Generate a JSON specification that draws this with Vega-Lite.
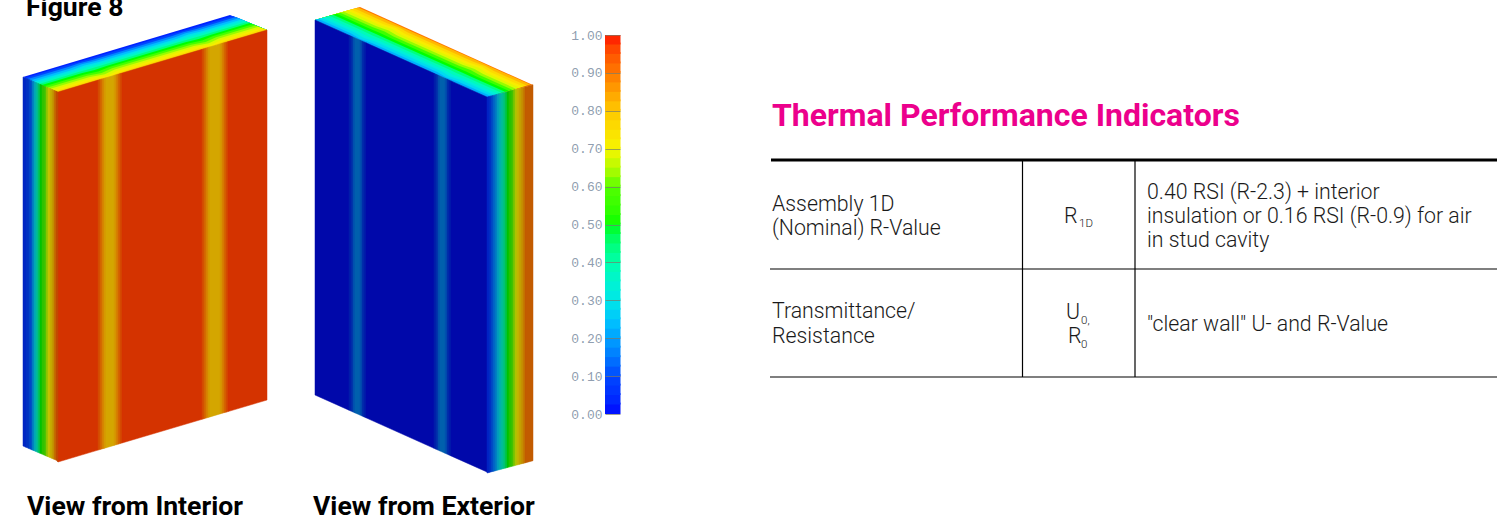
{"$schema":"https://vega.github.io/schema/vega-lite/v6.json","width":1509,"height":521,"padding":0,"autosize":{"type":"none"},"background":"white","config":{"view":{"stroke":null}},"resolve":{"scale":{"color":"independent","stroke":"independent","y":"independent"}},
"layer":[
{"data":{"values":[
{"b":0,"t":0.03,"x":23,"y":77},{"b":0,"t":0.03,"x":230,"y":15},{"b":0,"t":0.03,"x":267,"y":30},{"b":0,"t":0.03,"x":58,"y":92},
{"b":1,"t":0.1,"x":25.1,"y":77.9},{"b":1,"t":0.1,"x":64.6,"y":66.1},{"b":1,"t":0.1,"x":77.1,"y":62.4},{"b":1,"t":0.1,"x":89.6,"y":58.7},{"b":1,"t":0.1,"x":168.6,"y":35.1},{"b":1,"t":0.1,"x":181.1,"y":31.4},{"b":1,"t":0.1,"x":193.6,"y":27.7},{"b":1,"t":0.1,"x":233.1,"y":15.9},{"b":1,"t":0.1,"x":267,"y":30},{"b":1,"t":0.1,"x":58,"y":92},
{"b":2,"t":0.17,"x":27.9,"y":79.1},{"b":2,"t":0.17,"x":67.4,"y":67.3},{"b":2,"t":0.17,"x":79.2,"y":63.3},{"b":2,"t":0.17,"x":92.4,"y":59.9},{"b":2,"t":0.17,"x":171.4,"y":36.3},{"b":2,"t":0.17,"x":183.2,"y":32.3},{"b":2,"t":0.17,"x":196.4,"y":28.9},{"b":2,"t":0.17,"x":235.9,"y":17.1},{"b":2,"t":0.17,"x":267,"y":30},{"b":2,"t":0.17,"x":58,"y":92},
{"b":3,"t":0.24,"x":30.7,"y":80.3},{"b":3,"t":0.24,"x":70.2,"y":68.5},{"b":3,"t":0.24,"x":81.6,"y":64.3},{"b":3,"t":0.24,"x":95.2,"y":61.1},{"b":3,"t":0.24,"x":174.2,"y":37.5},{"b":3,"t":0.24,"x":185.6,"y":33.3},{"b":3,"t":0.24,"x":199.2,"y":30.1},{"b":3,"t":0.24,"x":238.7,"y":18.3},{"b":3,"t":0.24,"x":267,"y":30},{"b":3,"t":0.24,"x":58,"y":92},
{"b":4,"t":0.3,"x":33.5,"y":81.5},{"b":4,"t":0.3,"x":73,"y":69.7},{"b":4,"t":0.3,"x":84.4,"y":65.5},{"b":4,"t":0.3,"x":98,"y":62.3},{"b":4,"t":0.3,"x":177,"y":38.7},{"b":4,"t":0.3,"x":188.4,"y":34.5},{"b":4,"t":0.3,"x":202,"y":31.3},{"b":4,"t":0.3,"x":241.5,"y":19.5},{"b":4,"t":0.3,"x":267,"y":30},{"b":4,"t":0.3,"x":58,"y":92},
{"b":5,"t":0.37,"x":36.3,"y":82.7},{"b":5,"t":0.37,"x":75.8,"y":70.9},{"b":5,"t":0.37,"x":87.6,"y":66.9},{"b":5,"t":0.37,"x":100.8,"y":63.5},{"b":5,"t":0.37,"x":179.8,"y":39.9},{"b":5,"t":0.37,"x":191.6,"y":35.9},{"b":5,"t":0.37,"x":204.8,"y":32.5},{"b":5,"t":0.37,"x":244.3,"y":20.7},{"b":5,"t":0.37,"x":267,"y":30},{"b":5,"t":0.37,"x":58,"y":92},
{"b":6,"t":0.44,"x":39.1,"y":83.9},{"b":6,"t":0.44,"x":78.6,"y":72.1},{"b":6,"t":0.44,"x":91.1,"y":68.4},{"b":6,"t":0.44,"x":103.6,"y":64.7},{"b":6,"t":0.44,"x":182.6,"y":41.1},{"b":6,"t":0.44,"x":195.1,"y":37.4},{"b":6,"t":0.44,"x":207.6,"y":33.7},{"b":6,"t":0.44,"x":247.1,"y":21.9},{"b":6,"t":0.44,"x":267,"y":30},{"b":6,"t":0.44,"x":58,"y":92},
{"b":7,"t":0.5,"x":41.9,"y":85.1},{"b":7,"t":0.5,"x":81.4,"y":73.3},{"b":7,"t":0.5,"x":94.6,"y":69.9},{"b":7,"t":0.5,"x":106.4,"y":65.9},{"b":7,"t":0.5,"x":185.4,"y":42.3},{"b":7,"t":0.5,"x":198.6,"y":38.9},{"b":7,"t":0.5,"x":210.4,"y":34.9},{"b":7,"t":0.5,"x":249.9,"y":23.1},{"b":7,"t":0.5,"x":267,"y":30},{"b":7,"t":0.5,"x":58,"y":92},
{"b":8,"t":0.57,"x":44.7,"y":86.3},{"b":8,"t":0.57,"x":84.2,"y":74.5},{"b":8,"t":0.57,"x":98.1,"y":71.4},{"b":8,"t":0.57,"x":109.2,"y":67.1},{"b":8,"t":0.57,"x":188.2,"y":43.5},{"b":8,"t":0.57,"x":202.1,"y":40.4},{"b":8,"t":0.57,"x":213.2,"y":36.1},{"b":8,"t":0.57,"x":252.7,"y":24.3},{"b":8,"t":0.57,"x":267,"y":30},{"b":8,"t":0.57,"x":58,"y":92},
{"b":9,"t":0.63,"x":47.5,"y":87.5},{"b":9,"t":0.63,"x":87,"y":75.7},{"b":9,"t":0.63,"x":101.6,"y":72.9},{"b":9,"t":0.63,"x":112,"y":68.3},{"b":9,"t":0.63,"x":191,"y":44.7},{"b":9,"t":0.63,"x":205.6,"y":41.9},{"b":9,"t":0.63,"x":216,"y":37.3},{"b":9,"t":0.63,"x":255.5,"y":25.5},{"b":9,"t":0.63,"x":267,"y":30},{"b":9,"t":0.63,"x":58,"y":92},
{"b":10,"t":0.68,"x":50.3,"y":88.7},{"b":10,"t":0.68,"x":89.8,"y":76.9},{"b":10,"t":0.68,"x":104.8,"y":74.3},{"b":10,"t":0.68,"x":114.8,"y":69.5},{"b":10,"t":0.68,"x":193.8,"y":45.9},{"b":10,"t":0.68,"x":208.8,"y":43.3},{"b":10,"t":0.68,"x":218.8,"y":38.5},{"b":10,"t":0.68,"x":258.3,"y":26.7},{"b":10,"t":0.68,"x":267,"y":30},{"b":10,"t":0.68,"x":58,"y":92},
{"b":11,"t":0.72,"x":53.1,"y":89.9},{"b":11,"t":0.72,"x":92.6,"y":78.1},{"b":11,"t":0.72,"x":107.9,"y":75.6},{"b":11,"t":0.72,"x":117.6,"y":70.7},{"b":11,"t":0.72,"x":196.6,"y":47.1},{"b":11,"t":0.72,"x":211.9,"y":44.6},{"b":11,"t":0.72,"x":221.6,"y":39.7},{"b":11,"t":0.72,"x":261.1,"y":27.9},{"b":11,"t":0.72,"x":267,"y":30},{"b":11,"t":0.72,"x":58,"y":92},
{"b":12,"t":0.76,"x":55.9,"y":91.1},{"b":12,"t":0.76,"x":95.4,"y":79.3},{"b":12,"t":0.76,"x":109.7,"y":76.4},{"b":12,"t":0.76,"x":120.4,"y":71.9},{"b":12,"t":0.76,"x":199.4,"y":48.3},{"b":12,"t":0.76,"x":213.7,"y":45.4},{"b":12,"t":0.76,"x":224.4,"y":40.9},{"b":12,"t":0.76,"x":263.9,"y":29.1},{"b":12,"t":0.76,"x":267,"y":30},{"b":12,"t":0.76,"x":58,"y":92},
{"b":20,"t":0.9,"x":360,"y":7},{"b":20,"t":0.9,"x":533,"y":85},{"b":20,"t":0.9,"x":487,"y":97},{"b":20,"t":0.9,"x":315,"y":20},
{"b":21,"t":0.82,"x":358.2,"y":7.5},{"b":21,"t":0.82,"x":390.9,"y":22.1},{"b":21,"t":0.82,"x":401.2,"y":26.8},{"b":21,"t":0.82,"x":411.5,"y":31.4},{"b":21,"t":0.82,"x":476.9,"y":60.6},{"b":21,"t":0.82,"x":487.2,"y":65.3},{"b":21,"t":0.82,"x":497.5,"y":69.9},{"b":21,"t":0.82,"x":530.2,"y":84.5},{"b":21,"t":0.82,"x":487,"y":97},{"b":21,"t":0.82,"x":315,"y":20},
{"b":22,"t":0.76,"x":354.6,"y":8.6},{"b":22,"t":0.76,"x":387.3,"y":23.2},{"b":22,"t":0.76,"x":399,"y":27.5},{"b":22,"t":0.76,"x":407.9,"y":32.5},{"b":22,"t":0.76,"x":473.3,"y":61.7},{"b":22,"t":0.76,"x":485,"y":66},{"b":22,"t":0.76,"x":493.9,"y":71},{"b":22,"t":0.76,"x":526.6,"y":85.6},{"b":22,"t":0.76,"x":487,"y":97},{"b":22,"t":0.76,"x":315,"y":20},
{"b":23,"t":0.72,"x":351,"y":9.6},{"b":23,"t":0.72,"x":383.7,"y":24.2},{"b":23,"t":0.72,"x":396.3,"y":28.3},{"b":23,"t":0.72,"x":404.3,"y":33.5},{"b":23,"t":0.72,"x":469.7,"y":62.7},{"b":23,"t":0.72,"x":482.3,"y":66.8},{"b":23,"t":0.72,"x":490.3,"y":72},{"b":23,"t":0.72,"x":523,"y":86.6},{"b":23,"t":0.72,"x":487,"y":97},{"b":23,"t":0.72,"x":315,"y":20},
{"b":24,"t":0.68,"x":347.4,"y":10.6},{"b":24,"t":0.68,"x":380.1,"y":25.2},{"b":24,"t":0.68,"x":392.7,"y":29.3},{"b":24,"t":0.68,"x":400.7,"y":34.5},{"b":24,"t":0.68,"x":466.1,"y":63.7},{"b":24,"t":0.68,"x":478.7,"y":67.8},{"b":24,"t":0.68,"x":486.7,"y":73},{"b":24,"t":0.68,"x":519.4,"y":87.6},{"b":24,"t":0.68,"x":487,"y":97},{"b":24,"t":0.68,"x":315,"y":20},
{"b":25,"t":0.63,"x":343.8,"y":11.7},{"b":25,"t":0.63,"x":376.5,"y":26.3},{"b":25,"t":0.63,"x":388.6,"y":30.5},{"b":25,"t":0.63,"x":397.1,"y":35.6},{"b":25,"t":0.63,"x":462.5,"y":64.8},{"b":25,"t":0.63,"x":474.6,"y":69},{"b":25,"t":0.63,"x":483.1,"y":74.1},{"b":25,"t":0.63,"x":515.8,"y":88.7},{"b":25,"t":0.63,"x":487,"y":97},{"b":25,"t":0.63,"x":315,"y":20},
{"b":26,"t":0.56,"x":340.2,"y":12.7},{"b":26,"t":0.56,"x":372.9,"y":27.3},{"b":26,"t":0.56,"x":384.6,"y":31.6},{"b":26,"t":0.56,"x":393.5,"y":36.6},{"b":26,"t":0.56,"x":458.9,"y":65.8},{"b":26,"t":0.56,"x":470.6,"y":70.1},{"b":26,"t":0.56,"x":479.5,"y":75.1},{"b":26,"t":0.56,"x":512.2,"y":89.7},{"b":26,"t":0.56,"x":487,"y":97},{"b":26,"t":0.56,"x":315,"y":20},
{"b":27,"t":0.5,"x":336.6,"y":13.8},{"b":27,"t":0.5,"x":369.3,"y":28.4},{"b":27,"t":0.5,"x":380.1,"y":33},{"b":27,"t":0.5,"x":389.9,"y":37.7},{"b":27,"t":0.5,"x":455.3,"y":66.9},{"b":27,"t":0.5,"x":466.1,"y":71.5},{"b":27,"t":0.5,"x":475.9,"y":76.2},{"b":27,"t":0.5,"x":508.6,"y":90.8},{"b":27,"t":0.5,"x":487,"y":97},{"b":27,"t":0.5,"x":315,"y":20},
{"b":28,"t":0.44,"x":333,"y":14.8},{"b":28,"t":0.44,"x":365.7,"y":29.4},{"b":28,"t":0.44,"x":376,"y":34.1},{"b":28,"t":0.44,"x":386.3,"y":38.7},{"b":28,"t":0.44,"x":451.7,"y":67.9},{"b":28,"t":0.44,"x":462,"y":72.6},{"b":28,"t":0.44,"x":472.3,"y":77.2},{"b":28,"t":0.44,"x":505,"y":91.8},{"b":28,"t":0.44,"x":487,"y":97},{"b":28,"t":0.44,"x":315,"y":20},
{"b":29,"t":0.38,"x":329.4,"y":15.8},{"b":29,"t":0.38,"x":362.1,"y":30.4},{"b":29,"t":0.38,"x":372,"y":35.2},{"b":29,"t":0.38,"x":382.7,"y":39.7},{"b":29,"t":0.38,"x":448.1,"y":68.9},{"b":29,"t":0.38,"x":458,"y":73.7},{"b":29,"t":0.38,"x":468.7,"y":78.2},{"b":29,"t":0.38,"x":501.4,"y":92.8},{"b":29,"t":0.38,"x":487,"y":97},{"b":29,"t":0.38,"x":315,"y":20},
{"b":30,"t":0.33,"x":325.8,"y":16.9},{"b":30,"t":0.33,"x":358.5,"y":31.5},{"b":30,"t":0.33,"x":367.5,"y":36.6},{"b":30,"t":0.33,"x":379.1,"y":40.8},{"b":30,"t":0.33,"x":444.5,"y":70},{"b":30,"t":0.33,"x":453.5,"y":75.1},{"b":30,"t":0.33,"x":465.1,"y":79.3},{"b":30,"t":0.33,"x":497.8,"y":93.9},{"b":30,"t":0.33,"x":487,"y":97},{"b":30,"t":0.33,"x":315,"y":20},
{"b":31,"t":0.28,"x":322.2,"y":17.9},{"b":31,"t":0.28,"x":354.9,"y":32.5},{"b":31,"t":0.28,"x":363.4,"y":37.7},{"b":31,"t":0.28,"x":375.5,"y":41.8},{"b":31,"t":0.28,"x":440.9,"y":71},{"b":31,"t":0.28,"x":449.4,"y":76.2},{"b":31,"t":0.28,"x":461.5,"y":80.3},{"b":31,"t":0.28,"x":494.2,"y":94.9},{"b":31,"t":0.28,"x":487,"y":97},{"b":31,"t":0.28,"x":315,"y":20},
{"b":32,"t":0.22,"x":318.6,"y":19},{"b":32,"t":0.22,"x":351.3,"y":33.6},{"b":32,"t":0.22,"x":359.8,"y":38.8},{"b":32,"t":0.22,"x":371.9,"y":42.9},{"b":32,"t":0.22,"x":437.3,"y":72.1},{"b":32,"t":0.22,"x":445.8,"y":77.3},{"b":32,"t":0.22,"x":457.9,"y":81.4},{"b":32,"t":0.22,"x":490.6,"y":96},{"b":32,"t":0.22,"x":487,"y":97},{"b":32,"t":0.22,"x":315,"y":20}
]},
"mark":{"type":"line","filled":true,"interpolate":"linear-closed","strokeWidth":0},
"encoding":{"x":{"field":"x","type":"quantitative","scale":{"domain":[0,1509],"nice":false,"zero":false},"axis":null},"y":{"field":"y","type":"quantitative","scale":{"domain":[521,0],"nice":false,"zero":false},"axis":null},"detail":{"field":"b"},"order":{"value":null},"color":{"field":"t","type":"quantitative","scale":{"domain":[0,0.1,0.2,0.3,0.4,0.5,0.6,0.7,0.8,0.9,1],"range":["#0000ff","#0046ff","#00a0ff","#00e6e6","#00ffaa","#00ff00","#50ff00","#f5f500","#ffc800","#ff7800","#ff0000"]},"legend":null}}},
{"data":{"values":[
{"s":1,"t":0.97,"x":58,"y":92,"y2":462},{"s":1,"t":0.97,"x":98,"y":80.1,"y2":450.1},
{"s":2,"t":0.94,"x":98,"y":80.1,"y2":450.1},{"s":2,"t":0.94,"x":100,"y":79.5,"y2":449.5},
{"s":3,"t":0.9,"x":100,"y":79.5,"y2":449.5},{"s":3,"t":0.9,"x":102,"y":78.9,"y2":448.9},
{"s":4,"t":0.86,"x":102,"y":78.9,"y2":448.9},{"s":4,"t":0.86,"x":104,"y":78.4,"y2":448.4},
{"s":5,"t":0.82,"x":104,"y":78.4,"y2":448.4},{"s":5,"t":0.82,"x":106,"y":77.8,"y2":447.8},
{"s":6,"t":0.8,"x":106,"y":77.8,"y2":447.8},{"s":6,"t":0.8,"x":114,"y":75.4,"y2":445.4},
{"s":7,"t":0.82,"x":114,"y":75.4,"y2":445.4},{"s":7,"t":0.82,"x":116,"y":74.8,"y2":444.8},
{"s":8,"t":0.86,"x":116,"y":74.8,"y2":444.8},{"s":8,"t":0.86,"x":118,"y":74.2,"y2":444.2},
{"s":9,"t":0.9,"x":118,"y":74.2,"y2":444.2},{"s":9,"t":0.9,"x":120,"y":73.6,"y2":443.6},
{"s":10,"t":0.94,"x":120,"y":73.6,"y2":443.6},{"s":10,"t":0.94,"x":122,"y":73,"y2":443},
{"s":11,"t":0.97,"x":122,"y":73,"y2":443},{"s":11,"t":0.97,"x":202,"y":49.3,"y2":419.3},
{"s":12,"t":0.94,"x":202,"y":49.3,"y2":419.3},{"s":12,"t":0.94,"x":204,"y":48.7,"y2":418.7},
{"s":13,"t":0.9,"x":204,"y":48.7,"y2":418.7},{"s":13,"t":0.9,"x":206,"y":48.1,"y2":418.1},
{"s":14,"t":0.86,"x":206,"y":48.1,"y2":418.1},{"s":14,"t":0.86,"x":208,"y":47.5,"y2":417.5},
{"s":15,"t":0.82,"x":208,"y":47.5,"y2":417.5},{"s":15,"t":0.82,"x":210,"y":46.9,"y2":416.9},
{"s":16,"t":0.8,"x":210,"y":46.9,"y2":416.9},{"s":16,"t":0.8,"x":220,"y":43.9,"y2":413.9},
{"s":17,"t":0.82,"x":220,"y":43.9,"y2":413.9},{"s":17,"t":0.82,"x":222,"y":43.3,"y2":413.3},
{"s":18,"t":0.86,"x":222,"y":43.3,"y2":413.3},{"s":18,"t":0.86,"x":224,"y":42.7,"y2":412.7},
{"s":19,"t":0.9,"x":224,"y":42.7,"y2":412.7},{"s":19,"t":0.9,"x":226,"y":42.2,"y2":412.2},
{"s":20,"t":0.94,"x":226,"y":42.2,"y2":412.2},{"s":20,"t":0.94,"x":228,"y":41.6,"y2":411.6},
{"s":21,"t":0.97,"x":228,"y":41.6,"y2":411.6},{"s":21,"t":0.97,"x":267,"y":30,"y2":400}
]},
"mark":{"type":"area","strokeWidth":0.5},
"encoding":{"x":{"field":"x","type":"quantitative","scale":{"domain":[0,1509],"nice":false,"zero":false},"axis":null},"y":{"field":"y","type":"quantitative","scale":{"domain":[521,0],"nice":false,"zero":false},"axis":null},"y2":{"field":"y2"},"detail":{"field":"s"},
"color":{"field":"t","type":"quantitative","scale":{"domain":[0,0.1,0.2,0.3,0.4,0.5,0.6,0.7,0.8,0.9,1],"range":["#0000d4","#003ad4","#0085d4","#00bfbf","#00d48d","#00d400","#42d400","#d4d400","#d4a600","#d46400","#d40000"]},"legend":null},
"stroke":{"field":"t","type":"quantitative","scale":{"domain":[0,0.1,0.2,0.3,0.4,0.5,0.6,0.7,0.8,0.9,1],"range":["#0000d4","#003ad4","#0085d4","#00bfbf","#00d48d","#00d400","#42d400","#d4d400","#d4a600","#d46400","#d40000"]},"legend":null}}},
{"data":{"values":[
{"s":1,"t":0.01,"x":315,"y":20,"y2":395},{"s":1,"t":0.01,"x":349,"y":35.2,"y2":410.2},
{"s":2,"t":0.05,"x":349,"y":35.2,"y2":410.2},{"s":2,"t":0.05,"x":351,"y":36.1,"y2":411.1},
{"s":3,"t":0.1,"x":351,"y":36.1,"y2":411.1},{"s":3,"t":0.1,"x":353,"y":37,"y2":412},
{"s":4,"t":0.15,"x":353,"y":37,"y2":412},{"s":4,"t":0.15,"x":355,"y":37.9,"y2":412.9},
{"s":5,"t":0.18,"x":355,"y":37.9,"y2":412.9},{"s":5,"t":0.18,"x":360,"y":40.1,"y2":415.1},
{"s":6,"t":0.15,"x":360,"y":40.1,"y2":415.1},{"s":6,"t":0.15,"x":362,"y":41,"y2":416},
{"s":7,"t":0.1,"x":362,"y":41,"y2":416},{"s":7,"t":0.1,"x":364,"y":41.9,"y2":416.9},
{"s":8,"t":0.05,"x":364,"y":41.9,"y2":416.9},{"s":8,"t":0.05,"x":366,"y":42.8,"y2":417.8},
{"s":9,"t":0.01,"x":366,"y":42.8,"y2":417.8},{"s":9,"t":0.01,"x":434,"y":73.3,"y2":448.3},
{"s":10,"t":0.05,"x":434,"y":73.3,"y2":448.3},{"s":10,"t":0.05,"x":436,"y":74.2,"y2":449.2},
{"s":11,"t":0.1,"x":436,"y":74.2,"y2":449.2},{"s":11,"t":0.1,"x":438,"y":75.1,"y2":450.1},
{"s":12,"t":0.15,"x":438,"y":75.1,"y2":450.1},{"s":12,"t":0.15,"x":440,"y":76,"y2":451},
{"s":13,"t":0.18,"x":440,"y":76,"y2":451},{"s":13,"t":0.18,"x":445,"y":78.2,"y2":453.2},
{"s":14,"t":0.15,"x":445,"y":78.2,"y2":453.2},{"s":14,"t":0.15,"x":447,"y":79.1,"y2":454.1},
{"s":15,"t":0.1,"x":447,"y":79.1,"y2":454.1},{"s":15,"t":0.1,"x":449,"y":80,"y2":455},
{"s":16,"t":0.05,"x":449,"y":80,"y2":455},{"s":16,"t":0.05,"x":451,"y":80.9,"y2":455.9},
{"s":17,"t":0.01,"x":451,"y":80.9,"y2":455.9},{"s":17,"t":0.01,"x":487,"y":97,"y2":472}
]},
"mark":{"type":"area","strokeWidth":0.5},
"encoding":{"x":{"field":"x","type":"quantitative","scale":{"domain":[0,1509],"nice":false,"zero":false},"axis":null},"y":{"field":"y","type":"quantitative","scale":{"domain":[521,0],"nice":false,"zero":false},"axis":null},"y2":{"field":"y2"},"detail":{"field":"s"},
"color":{"field":"t","type":"quantitative","scale":{"domain":[0,0.1,0.2,0.3],"range":["#0000aa","#002eaa","#006aaa","#009999"]},"legend":null},
"stroke":{"field":"t","type":"quantitative","scale":{"domain":[0,0.1,0.2,0.3],"range":["#0000aa","#002eaa","#006aaa","#009999"]},"legend":null}}},
{"data":{"values":[
{"s":1,"t":0.06,"x":23,"y":77,"y2":446},{"s":1,"t":0.06,"x":26,"y":78.3,"y2":447.3},
{"s":2,"t":0.09,"x":26,"y":78.3,"y2":447.3},{"s":2,"t":0.09,"x":29,"y":79.6,"y2":448.6},
{"s":3,"t":0.12,"x":29,"y":79.6,"y2":448.6},{"s":3,"t":0.12,"x":32,"y":80.9,"y2":449.9},
{"s":4,"t":0.2,"x":32,"y":80.9,"y2":449.9},{"s":4,"t":0.2,"x":34,"y":81.7,"y2":450.7},
{"s":5,"t":0.28,"x":34,"y":81.7,"y2":450.7},{"s":5,"t":0.28,"x":36,"y":82.6,"y2":451.6},
{"s":6,"t":0.36,"x":36,"y":82.6,"y2":451.6},{"s":6,"t":0.36,"x":38,"y":83.4,"y2":452.4},
{"s":7,"t":0.44,"x":38,"y":83.4,"y2":452.4},{"s":7,"t":0.44,"x":40,"y":84.3,"y2":453.3},
{"s":8,"t":0.5,"x":40,"y":84.3,"y2":453.3},{"s":8,"t":0.5,"x":42,"y":85.1,"y2":454.1},
{"s":9,"t":0.56,"x":42,"y":85.1,"y2":454.1},{"s":9,"t":0.56,"x":44,"y":86,"y2":455},
{"s":10,"t":0.6,"x":44,"y":86,"y2":455},{"s":10,"t":0.6,"x":46,"y":86.9,"y2":455.9},
{"s":11,"t":0.65,"x":46,"y":86.9,"y2":455.9},{"s":11,"t":0.65,"x":48,"y":87.7,"y2":456.7},
{"s":12,"t":0.7,"x":48,"y":87.7,"y2":456.7},{"s":12,"t":0.7,"x":50,"y":88.6,"y2":457.6},
{"s":13,"t":0.75,"x":50,"y":88.6,"y2":457.6},{"s":13,"t":0.75,"x":52,"y":89.4,"y2":458.4},
{"s":14,"t":0.8,"x":52,"y":89.4,"y2":458.4},{"s":14,"t":0.8,"x":54,"y":90.3,"y2":459.3},
{"s":15,"t":0.87,"x":54,"y":90.3,"y2":459.3},{"s":15,"t":0.87,"x":56,"y":91.1,"y2":460.1},
{"s":16,"t":0.93,"x":56,"y":91.1,"y2":460.1},{"s":16,"t":0.93,"x":58,"y":92,"y2":462},
{"s":21,"t":0.05,"x":487,"y":97,"y2":473},{"s":21,"t":0.05,"x":489,"y":96.5,"y2":472.5},
{"s":22,"t":0.08,"x":489,"y":96.5,"y2":472.5},{"s":22,"t":0.08,"x":491,"y":95.9,"y2":471.9},
{"s":23,"t":0.12,"x":491,"y":95.9,"y2":471.9},{"s":23,"t":0.12,"x":493,"y":95.4,"y2":471.4},
{"s":24,"t":0.16,"x":493,"y":95.4,"y2":471.4},{"s":24,"t":0.16,"x":495,"y":94.9,"y2":470.9},
{"s":25,"t":0.2,"x":495,"y":94.9,"y2":470.9},{"s":25,"t":0.2,"x":497,"y":94.3,"y2":470.3},
{"s":26,"t":0.26,"x":497,"y":94.3,"y2":470.3},{"s":26,"t":0.26,"x":499,"y":93.8,"y2":469.8},
{"s":27,"t":0.3,"x":499,"y":93.8,"y2":469.8},{"s":27,"t":0.3,"x":501,"y":93.3,"y2":469.3},
{"s":28,"t":0.35,"x":501,"y":93.3,"y2":469.3},{"s":28,"t":0.35,"x":503,"y":92.7,"y2":468.7},
{"s":29,"t":0.4,"x":503,"y":92.7,"y2":468.7},{"s":29,"t":0.4,"x":505,"y":92.2,"y2":468.2},
{"s":30,"t":0.46,"x":505,"y":92.2,"y2":468.2},{"s":30,"t":0.46,"x":507,"y":91.7,"y2":467.7},
{"s":31,"t":0.5,"x":507,"y":91.7,"y2":467.7},{"s":31,"t":0.5,"x":509,"y":91.1,"y2":467.1},
{"s":32,"t":0.54,"x":509,"y":91.1,"y2":467.1},{"s":32,"t":0.54,"x":511,"y":90.6,"y2":466.6},
{"s":33,"t":0.58,"x":511,"y":90.6,"y2":466.6},{"s":33,"t":0.58,"x":513,"y":90.1,"y2":466.1},
{"s":34,"t":0.63,"x":513,"y":90.1,"y2":466.1},{"s":34,"t":0.63,"x":515,"y":89.5,"y2":465.5},
{"s":35,"t":0.68,"x":515,"y":89.5,"y2":465.5},{"s":35,"t":0.68,"x":517,"y":89,"y2":465},
{"s":36,"t":0.73,"x":517,"y":89,"y2":465},{"s":36,"t":0.73,"x":519,"y":88.5,"y2":464.5},
{"s":37,"t":0.77,"x":519,"y":88.5,"y2":464.5},{"s":37,"t":0.77,"x":521,"y":87.9,"y2":463.9},
{"s":38,"t":0.81,"x":521,"y":87.9,"y2":463.9},{"s":38,"t":0.81,"x":523,"y":87.4,"y2":463.4},
{"s":39,"t":0.85,"x":523,"y":87.4,"y2":463.4},{"s":39,"t":0.85,"x":525,"y":86.9,"y2":462.9},
{"s":40,"t":0.9,"x":525,"y":86.9,"y2":462.9},{"s":40,"t":0.9,"x":533,"y":84.7,"y2":460.7}
]},
"mark":{"type":"area","strokeWidth":0.5},
"encoding":{"x":{"field":"x","type":"quantitative","scale":{"domain":[0,1509],"nice":false,"zero":false},"axis":null},"y":{"field":"y","type":"quantitative","scale":{"domain":[521,0],"nice":false,"zero":false},"axis":null},"y2":{"field":"y2"},"detail":{"field":"s"},
"color":{"field":"t","type":"quantitative","scale":{"domain":[0,0.1,0.2,0.3,0.4,0.5,0.6,0.7,0.8,0.9,1],"range":["#0000c2","#0035c2","#0079c2","#00afaf","#00c281","#00c200","#3dc200","#c2c200","#c29800","#c25b00","#c20000"]},"legend":null},
"stroke":{"field":"t","type":"quantitative","scale":{"domain":[0,0.1,0.2,0.3,0.4,0.5,0.6,0.7,0.8,0.9,1],"range":["#0000c2","#0035c2","#0079c2","#00afaf","#00c281","#00c200","#3dc200","#c2c200","#c29800","#c25b00","#c20000"]},"legend":null}}},
{"data":{"values":[
{"lo":0,"hi":0.03,"t":0.0125},{"lo":0.025,"hi":0.055,"t":0.0375},{"lo":0.05,"hi":0.08,"t":0.0625},{"lo":0.075,"hi":0.105,"t":0.0875},{"lo":0.1,"hi":0.13,"t":0.1125},{"lo":0.125,"hi":0.155,"t":0.1375},{"lo":0.15,"hi":0.18,"t":0.1625},{"lo":0.175,"hi":0.205,"t":0.1875},{"lo":0.2,"hi":0.23,"t":0.2125},{"lo":0.225,"hi":0.255,"t":0.2375},
{"lo":0.25,"hi":0.28,"t":0.2625},{"lo":0.275,"hi":0.305,"t":0.2875},{"lo":0.3,"hi":0.33,"t":0.3125},{"lo":0.325,"hi":0.355,"t":0.3375},{"lo":0.35,"hi":0.38,"t":0.3625},{"lo":0.375,"hi":0.405,"t":0.3875},{"lo":0.4,"hi":0.43,"t":0.4125},{"lo":0.425,"hi":0.455,"t":0.4375},{"lo":0.45,"hi":0.48,"t":0.4625},{"lo":0.475,"hi":0.505,"t":0.4875},
{"lo":0.5,"hi":0.53,"t":0.5125},{"lo":0.525,"hi":0.555,"t":0.5375},{"lo":0.55,"hi":0.58,"t":0.5625},{"lo":0.575,"hi":0.605,"t":0.5875},{"lo":0.6,"hi":0.63,"t":0.6125},{"lo":0.625,"hi":0.655,"t":0.6375},{"lo":0.65,"hi":0.68,"t":0.6625},{"lo":0.675,"hi":0.705,"t":0.6875},{"lo":0.7,"hi":0.73,"t":0.7125},{"lo":0.725,"hi":0.755,"t":0.7375},
{"lo":0.75,"hi":0.78,"t":0.7625},{"lo":0.775,"hi":0.805,"t":0.7875},{"lo":0.8,"hi":0.83,"t":0.8125},{"lo":0.825,"hi":0.855,"t":0.8375},{"lo":0.85,"hi":0.88,"t":0.8625},{"lo":0.875,"hi":0.905,"t":0.8875},{"lo":0.9,"hi":0.93,"t":0.9125},{"lo":0.925,"hi":0.955,"t":0.9375},{"lo":0.95,"hi":0.98,"t":0.9625},{"lo":0.975,"hi":1,"t":0.9875}
]},
"mark":{"type":"rect"},
"encoding":{"x":{"datum":605,"type":"quantitative","scale":{"domain":[0,1509],"nice":false,"zero":false},"axis":null},"x2":{"datum":620.5},
"y":{"field":"lo","type":"quantitative","scale":{"domain":[0,1],"range":[414,35],"nice":false,"zero":false},"axis":{"orient":"left","offset":-605,"values":[0,0.1,0.2,0.3,0.4,0.5,0.6,0.7,0.8,0.9,1],"format":".2f","domain":false,"grid":false,"title":null,"tickSize":-15,"tickColor":"#7a7a6a","tickOpacity":0.7,"tickWidth":1,"labelPadding":18,"labelFont":"Liberation Mono","labelFontSize":13,"labelColor":"#8292a6","labelOpacity":0.9,"zindex":1}},"y2":{"field":"hi"},
"color":{"field":"t","type":"quantitative","scale":{"domain":[0,0.1,0.2,0.3,0.4,0.5,0.6,0.7,0.8,0.9,1],"range":["#0000ff","#0046ff","#00a0ff","#00e6e6","#00ffaa","#00ff00","#50ff00","#f5f500","#ffc800","#ff7800","#ff0000"]},"legend":null}}},
{"data":{"values":[
{"x":770,"x2":1497,"y":269,"y2":269},{"x":770,"x2":1497,"y":377,"y2":377},{"x":1022.5,"x2":1022.5,"y":160,"y2":377},{"x":1135,"x2":1135,"y":160,"y2":377}
]},
"mark":{"type":"rule","color":"#000000","strokeWidth":1.2},
"encoding":{"x":{"field":"x","type":"quantitative","scale":{"domain":[0,1509],"nice":false,"zero":false},"axis":null},"x2":{"field":"x2"},"y":{"field":"y","type":"quantitative","scale":{"domain":[521,0],"nice":false,"zero":false},"axis":null},"y2":{"field":"y2"}}},
{"data":{"values":[{"x":771,"x2":1497,"y":160,"y2":160}]},
"mark":{"type":"rule","color":"#000000","strokeWidth":3},
"encoding":{"x":{"field":"x","type":"quantitative","scale":{"domain":[0,1509],"nice":false,"zero":false},"axis":null},"x2":{"field":"x2"},"y":{"field":"y","type":"quantitative","scale":{"domain":[521,0],"nice":false,"zero":false},"axis":null},"y2":{"field":"y2"}}},
{"data":{"values":[{"x":26,"y":16,"text":"Figure 8"},{"x":27,"y":515,"text":"View from Interior"},{"x":313,"y":515,"text":"View from Exterior"}]},
"mark":{"type":"text","font":"Roboto","fontWeight":700,"fontSize":26.6,"align":"left","baseline":"alphabetic","color":"#000000"},
"encoding":{"x":{"field":"x","type":"quantitative","scale":{"domain":[0,1509],"nice":false,"zero":false},"axis":null},"y":{"field":"y","type":"quantitative","scale":{"domain":[521,0],"nice":false,"zero":false},"axis":null},"text":{"field":"text"}}},
{"data":{"values":[{"x":772,"y":126,"text":"Thermal Performance Indicators"}]},
"mark":{"type":"text","font":"Roboto","fontWeight":700,"fontSize":32,"align":"left","baseline":"alphabetic","color":"#ec008c"},
"encoding":{"x":{"field":"x","type":"quantitative","scale":{"domain":[0,1509],"nice":false,"zero":false},"axis":null},"y":{"field":"y","type":"quantitative","scale":{"domain":[521,0],"nice":false,"zero":false},"axis":null},"text":{"field":"text"}}},
{"data":{"values":[
{"x":772,"y":211,"text":"Assembly 1D"},{"x":772,"y":235,"text":"(Nominal) R-Value"},
{"x":1147,"y":199,"text":"0.40 RSI (R-2.3) + interior"},{"x":1147,"y":223,"text":"insulation or 0.16 RSI (R-0.9) for air"},{"x":1147,"y":247,"text":"in stud cavity"},
{"x":772,"y":318,"text":"Transmittance/"},{"x":772,"y":343,"text":"Resistance"},
{"x":1147,"y":331,"text":"\"clear wall\" U- and R-Value"},
{"x":1064,"y":223,"text":"R"},{"x":1066,"y":319,"text":"U"},{"x":1068,"y":343,"text":"R"}
]},
"mark":{"type":"text","font":"Roboto","fontWeight":300,"fontSize":21.3,"align":"left","baseline":"alphabetic","color":"#1a1a1a"},
"encoding":{"x":{"field":"x","type":"quantitative","scale":{"domain":[0,1509],"nice":false,"zero":false},"axis":null},"y":{"field":"y","type":"quantitative","scale":{"domain":[521,0],"nice":false,"zero":false},"axis":null},"text":{"field":"text"}}},
{"data":{"values":[{"x":1079,"y":227,"text":"1D"},{"x":1081,"y":324,"text":"0,"},{"x":1081,"y":348,"text":"0"}]},
"mark":{"type":"text","font":"Roboto","fontWeight":300,"fontSize":11.5,"align":"left","baseline":"alphabetic","color":"#1a1a1a"},
"encoding":{"x":{"field":"x","type":"quantitative","scale":{"domain":[0,1509],"nice":false,"zero":false},"axis":null},"y":{"field":"y","type":"quantitative","scale":{"domain":[521,0],"nice":false,"zero":false},"axis":null},"text":{"field":"text"}}}
]}
